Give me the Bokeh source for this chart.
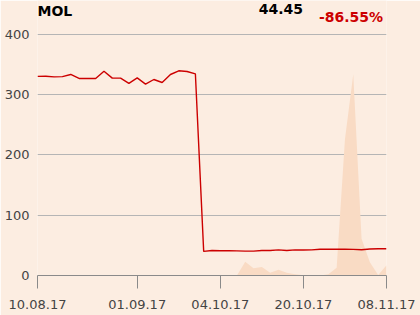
from bokeh.plotting import figure
from bokeh.models import Range1d, FixedTicker, Label, ColumnDataSource
from bokeh.embed import file_html
from bokeh.resources import INLINE

# ---- data ----
price = [330.5, 330.8, 329.7, 330.0, 333.6, 327.0, 327.0, 327.0, 339.0, 327.6,
         327.6, 319.0, 328.0, 317.6, 325.3, 320.3, 333.6, 339.7, 338.6, 334.7,
         40.0, 41.5, 41.0, 41.0, 40.8, 40.5, 40.5, 41.5, 41.5, 42.5,
         41.5, 42.5, 42.3, 42.5, 43.5, 43.5, 43.7, 43.5, 43.3, 42.8,
         44.0, 44.3, 44.45]
volume = [0, 0, 0, 0, 0, 0, 0, 0, 0, 0,
          0, 0, 0, 0, 0, 0, 0, 0, 0, 0,
          0, 0, 0, 0, 0, 23, 12, 14, 4.5, 9.5,
          4.5, 2, 0.5, 0, 0, 2, 13, 226, 334, 61,
          22, 1, 17]
tick_idx = [0, 12, 22, 32, 42]
tick_labels = ["10.08.17", "01.09.17", "04.10.17", "20.10.17", "08.11.17"]
y_ticks = [0, 100, 200, 300, 400]
name = "MOL"
last_txt = "44.45"
change_txt = "-86.55%"

idx = list(range(len(price)))
src = ColumnDataSource(dict(x=idx, price=price, volume=volume, zero=[0] * len(idx)))

BG = "#fcede1"
FONT = "DejaVu Sans"

p = figure(width=420, height=315, x_range=Range1d(0, 42), y_range=Range1d(0, 456.4),
           output_backend="svg", toolbar_location=None,
           min_border_left=37, min_border_right=34, min_border_top=0, min_border_bottom=40)
p.background_fill_color = BG
p.border_fill_color = BG
p.outline_line_color = None

p.varea(x="x", y1="zero", y2="volume", source=src, fill_color="#f9dbc4")
p.line(x="x", y="price", source=src, line_color="#cc0000", line_width=1.4)

# y axis
p.yaxis.ticker = FixedTicker(ticks=y_ticks)
p.yaxis.axis_line_color = None
p.yaxis.major_tick_line_color = None
p.yaxis.major_tick_out = 0
p.yaxis.major_tick_in = 0
p.yaxis.minor_tick_line_color = None
p.yaxis.minor_tick_out = 0
p.yaxis.major_label_standoff = 8
p.yaxis.major_label_text_font = FONT
p.yaxis.major_label_text_font_size = "13px"
p.yaxis.major_label_text_color = "#444444"

# x axis
p.xaxis.ticker = FixedTicker(ticks=tick_idx)
p.xaxis.major_label_overrides = {i: l for i, l in zip(tick_idx, tick_labels)}
p.xaxis.axis_line_color = "#8a8a8a"
p.xaxis.major_tick_line_color = "#8a8a8a"
p.xaxis.major_tick_out = 13
p.xaxis.major_tick_in = 0
p.xaxis.minor_tick_line_color = None
p.xaxis.major_label_standoff = 11
p.xaxis.major_label_text_font = FONT
p.xaxis.major_label_text_font_size = "13px"
p.xaxis.major_label_text_color = "#444444"

p.xgrid.grid_line_color = None
p.ygrid.ticker = FixedTicker(ticks=y_ticks[1:])
p.ygrid.grid_line_color = "#b5b5b5"

p.add_layout(Label(x=0, y=438.6, text=name, text_font=FONT, text_font_size="14px",
                   text_font_style="bold", text_color="#000000", text_align="left",
                   text_baseline="alphabetic"))
p.add_layout(Label(x=31.95, y=441.5, text=last_txt, text_font=FONT, text_font_size="14px",
                   text_font_style="bold", text_color="#000000", text_align="right",
                   text_baseline="alphabetic"))
p.add_layout(Label(x=41.58, y=428.7, text=change_txt, text_font=FONT, text_font_size="14px",
                   text_font_style="bold", text_color="#cc0000", text_align="right",
                   text_baseline="alphabetic"))

open("out.html", "w").write(file_html(p, INLINE))
